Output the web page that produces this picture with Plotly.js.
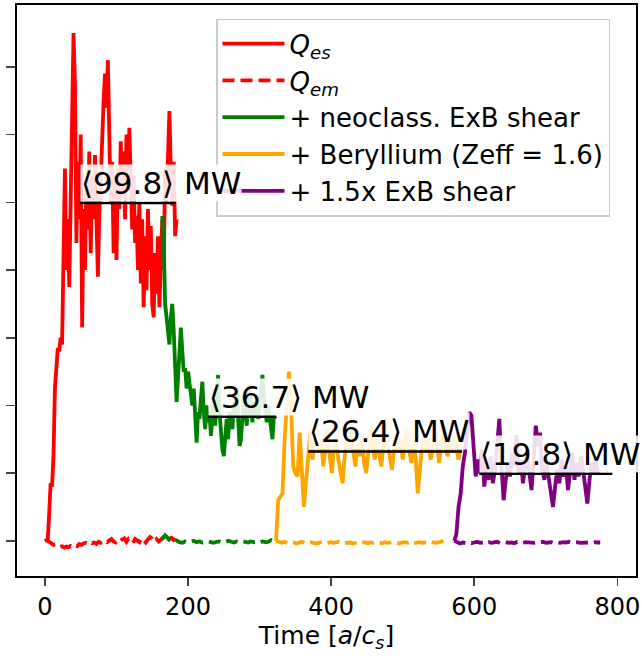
<!DOCTYPE html>
<html>
<head>
<meta charset="utf-8">
<script src="https://cdn.plot.ly/plotly-3.0.1.min.js"></script>
<style>html,body{margin:0;padding:0;background:#fff;}#chart{width:642px;height:656px;}</style>
</head>
<body>
<div id="chart"></div>
<script>
// ---- Data ----
// Uniform simulation time grids: [start, step]
const redGrid = [0, 2];
const greenGrid = [164, 2];
const orangeGrid = [323, 3];
const purpleGrid = [572, 3];
const redEmGrid = [0, 3];
const greenEmGrid = [164, 4];
const orangeEmGrid = [323, 4];
const purpleEmGrid = [572, 4];

const qesRed = [0,0.3,0.5,8,17,16,25,45,52,57,56,60,58,85,110,80,95,75,100,125,150,135,88,112,95,120,63,98,80,105,92,115,85,108,95,114,90,78,96,105,118,130,138,128,142,120,100,112,85,108,83,110,98,118,102,115,95,120,105,122,100,92,108,88,96,80,100,76,95,69,90,74,98,80,93,70,66,85,73,90,69,85,95,80,110,100,112,127,108,99,112,90,95];
const qesGreen = [96,88,70,66,60,58,66,70,62,52,41,48,55,63,56,50,51,45,50,47,44,40,45,33,29,38,36,42,47,38,33,40,35,38,31,36,45,34,41,49,38,32,27,25,31,36,30,38,36,33,41,37,45,35,28,30,37,43,38,34,40,46,39,35,41,37,42,36,40,45,49,42,38,35,40,37,34,30,37,36];
const qesOrange = [0,12,13,14,30,42,50,40,22,20,19,32,22,10,18,26,32,24,29,35,26,30,22,27,33,25,20,28,31,24,21,17,25,30,27,34,26,22,29,25,31,23,20,27,33,28,24,30,26,22,28,35,29,25,21,27,32,26,30,24,28,33,27,23,29,25,14,22,28,31,26,30,24,27,32,28,23,29,34,27,25,30,26,31,27,24,28];
const qesPurple = [0,2,10,14,22,26,33,38,37,28,19,24,20,27,16,22,18,25,17,21,28,36,22,12,18,23,19,26,22,31,20,24,17,22,26,20,15,24,34,28,32,21,18,23,19,14,10,16,21,17,24,19,22,15,20,26,18,23,19,25,21,16,11,18,23,20,24,20];

const qemRed = [0,0.2,-0.3,-0.8,-1.2,-1.0,-1.5,-1.8,-1.6,-2.0,-1.7,-1.9,-1.5,-1.8,-1.3,-1.6,-1.0,-1.2,-0.8,-0.6,-0.9,-0.4,-0.7,-0.5,-0.9,-0.3,-0.6,-0.2,0.1,-0.4,0.2,0.5,-0.2,-0.5,0.3,-0.1,0.4,0.7,-0.3,0.6,0.2,-0.6,0.5,0.1,-0.4,0.8,0.3,-0.5,0.4,1.1,0.6,-0.3,0.5,-0.2,0.3,1.0,0.4,-0.4,0.6,0.9,0.2,0.5];
const qemGreen = [0.5,1.6,0.8,-0.2,-0.5,0.1,-0.4,-0.6,-0.2,-0.5,-0.3,0,-0.4,-0.2,-0.5,-0.3,-0.1,-0.4,-0.6,-0.3,-0.2,-0.5,-0.4,0,-0.3,-0.5,-0.2,-0.4,-0.1,-0.3,-0.5,-0.2,-0.4,-0.3,-0.6,-0.2,-0.4,-0.3,0.2,-0.2,-0.3];
const qemOrange = [0,-0.4,-0.6,-0.3,-0.7,-0.5,-0.4,-0.8,-0.5,-0.3,-0.6,-0.7,-0.4,-0.5,-0.8,-0.6,-0.3,-0.5,-0.7,-0.4,-0.6,-0.5,-0.3,-0.7,-0.6,-0.4,-0.5,-0.8,-0.5,-0.3,-0.6,-0.4,-0.7,-0.5,-0.6,-0.3,-0.5,-0.7,-0.4,-0.6,-0.5,-0.3,-0.6,-0.8,-0.5,-0.4,-0.6,-0.3,-0.7,-0.5,-0.4,-0.6,-0.5,-0.7,-0.3,-0.5,-0.6,-0.4,-0.2,0];
const qemPurple = [0,-0.3,-0.8,-0.5,-0.6,-0.4,-0.7,-0.5,-0.3,-0.6,-0.5,-0.8,-0.4,-0.6,-0.5,-0.3,-0.7,-0.5,-0.4,-0.6,-0.5,-0.7,-0.3,-0.5,-0.6,-0.4,-0.5,-0.7,-0.6,-0.4,-0.5,-0.3,-0.6,-0.5,-0.4,-0.7,-0.5,-0.6,-0.4,-0.5,-0.3,-0.6,-0.5,-0.4,-0.6,-0.5,-0.4,-0.5,-0.6,-0.4,-0.5,-0.5];

const seriesNames = ["<i>Q</i><sub><i>es</i></sub>", "<i>Q</i><sub><i>em</i></sub>", "+ neoclass. ExB shear", "+ Beryllium (Zeff = 1.6)", "+ 1.5x ExB shear"];
const seriesColors = ["#ff0000", "#008000", "#ffa500", "#800080"];

const meanValues = [99.8, 36.7, 26.4, 19.8];
const meanStart = [49, 228, 368, 607];
const meanEnd = [183, 323, 583, 793];

const xTickVals = [0, 200, 400, 600, 800];
const yTickVals = [0, 20, 40, 60, 80, 100, 120, 140];

// ---- Build ----
function times(grid, n) { const t = []; for (let i = 0; i < n; i++) t.push(grid[0] + i * grid[1]); return t; }
const LW = 3.8;
const DASH = "12px,6px";
const traces = [];
const solidSets = [[redGrid, qesRed], [greenGrid, qesGreen], [orangeGrid, qesOrange], [purpleGrid, qesPurple]];
const dashSets = [[redEmGrid, qemRed], [greenEmGrid, qemGreen], [orangeEmGrid, qemOrange], [purpleEmGrid, qemPurple]];
for (let k = 0; k < 4; k++) {
  const [g, v] = solidSets[k];
  traces.push({type: "scatter", mode: "lines", x: times(g, v.length), y: v,
    line: {color: seriesColors[k], width: LW}, name: k === 0 ? seriesNames[0] : seriesNames[k + 1], showlegend: true, hoverinfo: "skip"});
  const [g2, v2] = dashSets[k];
  traces.push({type: "scatter", mode: "lines", x: times(g2, v2.length), y: v2,
    line: {color: seriesColors[k], width: LW, dash: DASH}, name: seriesNames[1], showlegend: k === 0, hoverinfo: "skip"});
}
const annotations = [];
for (let k = 0; k < meanValues.length; k++) {
  traces.push({type: "scatter", mode: "lines", x: [meanStart[k], meanEnd[k]], y: [meanValues[k], meanValues[k]],
    line: {color: "#000", width: 2.6}, showlegend: false, hoverinfo: "skip"});
  annotations.push({x: meanStart[k], y: meanValues[k], xref: "x", yref: "y", xanchor: "left", yanchor: "bottom",
    text: "\u27E8" + meanValues[k].toFixed(1) + "\u27E9 MW", showarrow: false, yshift: 1,
    font: {family: "DejaVu Sans", size: 31, color: "#000"}, bgcolor: "rgba(255,255,255,0.87)", borderpad: 0});
}

const layout = {
  width: 642, height: 656,
  margin: {l: 17, r: 6, t: 5, b: 80},
  paper_bgcolor: "#fff", plot_bgcolor: "#fff",
  font: {family: "DejaVu Sans", size: 24, color: "#000"},
  showlegend: true,
  legend: {x: 0.3215, y: 0.976, xanchor: "left", yanchor: "top",
    bgcolor: "rgba(255,255,255,0.8)", bordercolor: "#cccccc", borderwidth: 1.5,
    font: {family: "DejaVu Sans", size: 26}, itemwidth: 62, tracegroupgap: 0},
  xaxis: {range: [-39, 826], tickvals: xTickVals, ticks: "outside", ticklen: 8, tickwidth: 1.6,
    showline: true, mirror: true, linecolor: "#000", linewidth: 1.8, showgrid: false, zeroline: false,
    tickfont: {size: 24},
    title: {text: "Time [<i>a</i>/<i>c</i><sub><i>s</i></sub>]", font: {size: 25}, standoff: 7}},
  yaxis: {range: [-10.4, 158.3], tickvals: yTickVals, ticks: "outside", ticklen: 9, tickwidth: 1.6,
    showticklabels: false, showline: true, mirror: true, linecolor: "#000", linewidth: 1.8,
    showgrid: false, zeroline: false},
  annotations: annotations
};
Plotly.newPlot("chart", traces, layout, {displayModeBar: false, staticPlot: true});
</script>
</body>
</html>
